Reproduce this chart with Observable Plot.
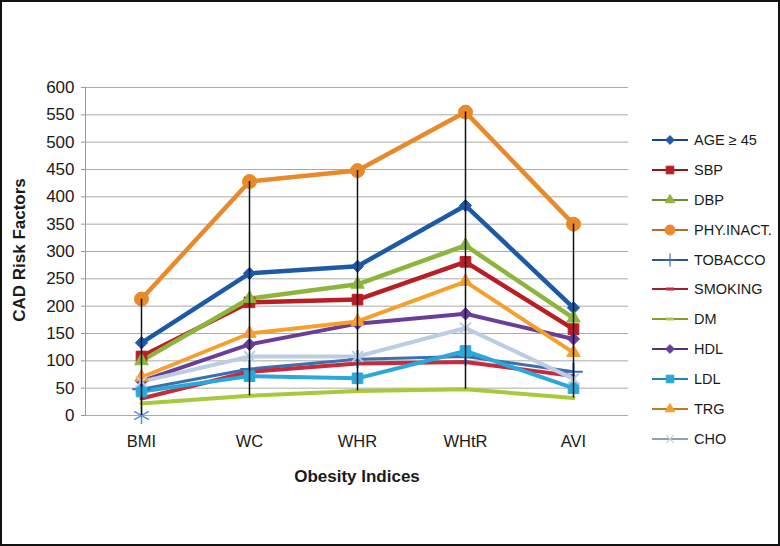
<!DOCTYPE html>
<html><head><meta charset="utf-8">
<script src="https://cdn.jsdelivr.net/npm/d3@7"></script>
<script src="https://cdn.jsdelivr.net/npm/@observablehq/plot@0.6"></script>
<style>
body{margin:0;background:#fff;font-family:"Liberation Sans",Arial,sans-serif;}
#wrap{position:relative;width:780px;height:546px;overflow:hidden;background:#fff;}
#chart{position:absolute;left:0;top:0;}
#frame{position:absolute;left:0;top:0;width:780px;height:546px;box-sizing:border-box;border:2px solid #111;pointer-events:none;}
.title{position:absolute;font-weight:bold;font-size:17px;color:#1a1a1a;white-space:nowrap;}
#xtitle{left:357px;top:477px;transform:translate(-50%,-50%);}
#ytitle{left:20px;top:250px;transform:translate(-50%,-50%) rotate(-90deg);}
#legend{position:absolute;left:650px;top:125px;}
.item{height:29.9px;display:flex;align-items:center;font-size:14.5px;color:#1a1a1a;white-space:nowrap;}
.item svg{margin-right:4px;}
</style></head>
<body>
<div id="wrap">
  <div id="chart"></div>
  <div id="ytitle" class="title">CAD Risk Factors</div>
  <div id="xtitle" class="title">Obesity Indices</div>
  <div id="legend"></div>
  <div id="frame"></div>
</div>
<script>
// ---- data ----
const categories = ["BMI", "WC", "WHR", "WHtR", "AVI"];
const seriesNames = ["AGE ≥ 45", "SBP", "DBP", "PHY.INACT.", "TOBACCO", "SMOKING", "DM", "HDL", "LDL", "TRG", "CHO"];
const age     = [133, 260, 273, 384, 197];
const sbp     = [108, 207, 212, 281, 158];
const dbp     = [100, 214, 240, 311, 178];
const phyInact= [213, 428, 448, 555, 350];
const tobacco = [48, 85, 103, 108, 80];
const smoking = [31, 80, 95, 98, 72];
const dm      = [22, 36, 45, 48, 32];
const hdl     = [63, 130, 168, 186, 140];
const ldl     = [44, 72, 68, 118, 50];
const trg     = [70, 150, 172, 245, 115];
const cho     = [62, 108, 108, 160, 67];
const extraMarkerCat = ["BMI"];
const extraMarkerVal = [0];
const yTicks = [0, 50, 100, 150, 200, 250, 300, 350, 400, 450, 500, 550, 600];

const seriesValues = [age, sbp, dbp, phyInact, tobacco, smoking, dm, hdl, ldl, trg, cho];
const seriesColors = ["#1d5aa6", "#b81f25", "#8db53c", "#e8892a", "#3a6fb0", "#c62a3c", "#a8c93a", "#6a3d9a", "#2aa9d9", "#f5a02c", "#bccde3"];
const seriesSymbols = ["diamond2", "square", "triangle", "circle", "plus", null, null, "diamond2", "square", "triangle", "times"];
const seriesSizes = [5.5, 6, 5, 7, 6, 0, 0, 5.5, 6, 5, 5];
const seriesWidths = [4.5, 4.5, 4.5, 4.5, 3, 4, 4, 4, 4, 4, 4];

const rows = [];
seriesNames.forEach((s, i) => categories.forEach((c, j) => rows.push({series: s, idx: i, cat: c, value: seriesValues[i][j]})));
const extra = extraMarkerCat.map((c, i) => ({cat: c, value: extraMarkerVal[i]}));
const allPts = rows.concat(extra);
const hl = categories.map(c => {
  const v = allPts.filter(d => d.cat === c).map(d => d.value);
  return {cat: c, lo: d3.min(v), hi: d3.max(v)};
});

const marks = [
  Plot.gridY(yTicks, {stroke: "#aaa", strokeOpacity: 1}),
  Plot.axisY(yTicks, {tickSize: 4, tickPadding: 7, fontSize: 17, stroke: "#999", label: null}),
  Plot.axisX({tickSize: 0, tickPadding: 20, fontSize: 16.5, label: null}),
  Plot.frame({anchor: "left", stroke: "#999"})
];
seriesNames.forEach((s, i) => {
  const d = rows.filter(r => r.idx === i);
  marks.push(Plot.line(d, {x: "cat", y: "value", stroke: seriesColors[i], strokeWidth: seriesWidths[i], strokeLinejoin: "round", strokeLinecap: "round"}));
});
seriesNames.forEach((s, i) => {
  if (!seriesSymbols[i]) return;
  const d = rows.filter(r => r.idx === i);
  const open = seriesSymbols[i] === "plus" || seriesSymbols[i] === "times";
  marks.push(Plot.dot(d, {x: "cat", y: "value", symbol: seriesSymbols[i], r: seriesSizes[i],
    fill: open ? "none" : seriesColors[i], stroke: seriesColors[i], strokeWidth: open ? 2 : 1}));
});
marks.push(Plot.dot(extra, {x: "cat", y: "value", symbol: "asterisk", r: 8, stroke: "#5b8fcc", strokeWidth: 1.5}));
marks.push(Plot.ruleX(hl, {x: "cat", y1: "lo", y2: "hi", stroke: "#111", strokeWidth: 1.5}));

const chart = Plot.plot({
  width: 780, height: 546,
  marginLeft: 85, marginRight: 152, marginTop: 87, marginBottom: 131,
  style: {fontFamily: "'Liberation Sans', Arial, sans-serif", color: "#1a1a1a", background: "transparent", overflow: "visible"},
  x: {type: "point", domain: categories, padding: 0.5, axis: null},
  y: {domain: [0, 600], axis: null},
  marks
});
document.getElementById("chart").append(chart);

// legend
const leg = d3.select("#legend");
const symMap = {diamond2: d3.symbolDiamond2, square: d3.symbolSquare, triangle: d3.symbolTriangle, circle: d3.symbolCircle, plus: d3.symbolPlus, times: d3.symbolTimes};
seriesNames.forEach((s, i) => {
  const it = leg.append("div").attr("class", "item");
  const svg = it.append("svg").attr("width", 40).attr("height", 16);
  svg.append("line").attr("x1", 2).attr("x2", 38).attr("y1", 8).attr("y2", 8)
    .attr("stroke", d3.color(seriesColors[i]).darker(0.7)).attr("stroke-width", 2);
  if (seriesSymbols[i]) {
    const open = seriesSymbols[i] === "plus" || seriesSymbols[i] === "times";
    svg.append("path").attr("transform", "translate(20,8)")
      .attr("d", d3.symbol(symMap[seriesSymbols[i]], Math.PI * Math.pow(seriesSizes[i] * 0.72, 2))())
      .attr("fill", open ? "none" : seriesColors[i]).attr("stroke", seriesColors[i]).attr("stroke-width", open ? 1.2 : 1);
  } else {
    svg.append("rect").attr("x", 16).attr("y", 6.5).attr("width", 8).attr("height", 3).attr("fill", seriesColors[i]);
  }
  it.append("span").text(s);
});
</script>
</body></html>
